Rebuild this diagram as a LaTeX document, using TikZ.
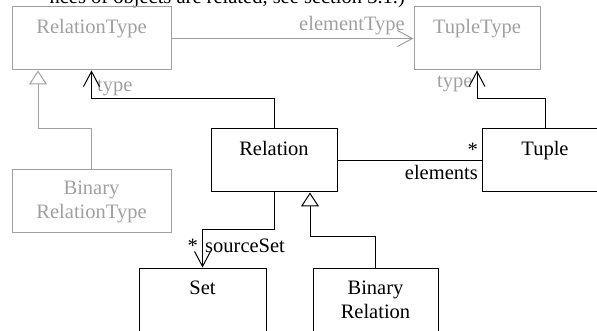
\documentclass[tikz,border=0pt]{standalone}
\usepackage{fontspec}
\setmainfont{Liberation Serif}
\newfontfamily\umlfont{Liberation Serif}
\usetikzlibrary{positioning, arrows.meta}
\definecolor{metagray}{RGB}{160,160,160}

\begin{document}
\begin{tikzpicture}
        [
            x=1pt, y=-1pt,
            every node/.style={font=\umlfont\fontsize{20.5}{24}\selectfont},
            cls/.style={draw, line width=1pt, minimum width=126pt, minimum height=63pt, align=center, inner sep=0pt},
            meta/.style={cls, draw=metagray, text=metagray},
            assoc/.style={line width=1pt, -{Straight Barb[length=15pt,width=16pt]}},
            inherit/.style={line width=1pt, -{Triangle[open,length=14pt,width=18pt,fill=white]}},
            rolename/.style={inner sep=0pt},
        ]
        \useasboundingbox (0,0) rectangle (597,331);

        % running text cut off above the figure
        \node[rolename, anchor=base east] (caption) at (405,4) {nces of objects are related, see section 3.1.)};

        % meta level
        \node[meta, minimum width=159pt] (rtype) at (91.5,38.5) {RelationType\\~};
        \node[meta] (ttype) at (477,38.5) {TupleType\\~};
        \node[meta, minimum width=159pt] (brtype) at (91.5,201.5) {Binary\\RelationType};

        % instance level
        \node[cls] (rel) at (274,160.5) {Relation\\~};
        \node[cls] (tuple) at (545,160.5) {Tuple\\~};
        \node[cls, minimum width=127pt] (set) at (202.5,299.5) {Set\\~};
        \node[cls, minimum width=125pt] (binrel) at (375.5,299.5) {Binary\\Relation};

        % role names
        \node[rolename, anchor=base east, text=metagray] (eltype) at (405,31) {elementType};
        \node[rolename, anchor=base west, text=metagray] (reltype) at (97,92) {type};
        \node[rolename, anchor=base west, text=metagray] (tuptype) at (437,88) {type};
        \node[rolename, anchor=base east] (elmult) at (478,157) {*};
        \node[rolename, anchor=base east] (elname) at (478,180) {elements};
        \node[rolename, anchor=base east] (srcmult) at (198,252) {*};
        \node[rolename, anchor=base west] (srcname) at (205,252) {sourceSet};

        % connectors
        \draw[assoc, draw=metagray] (rtype.east) -- (ttype.west);
        \draw[inherit, draw=metagray] (brtype.north) -- ++(0,-41) -| ([xshift=-53.5pt]rtype.south);
        \draw[assoc] (rel.north) -- ++(0,-30) -| (rtype.south);
        \draw[assoc] (tuple.north) -- ++(0,-30) -| (ttype.south);
        \draw[line width=1pt] (rel.east) -- (tuple.west);
        \draw[assoc] (rel.south) -- ++(0,37) -| (set.north);
        \draw[inherit] (binrel.north) -- ++(0,-31) -| ([xshift=36pt]rel.south);
    \end{tikzpicture}
\end{document}
